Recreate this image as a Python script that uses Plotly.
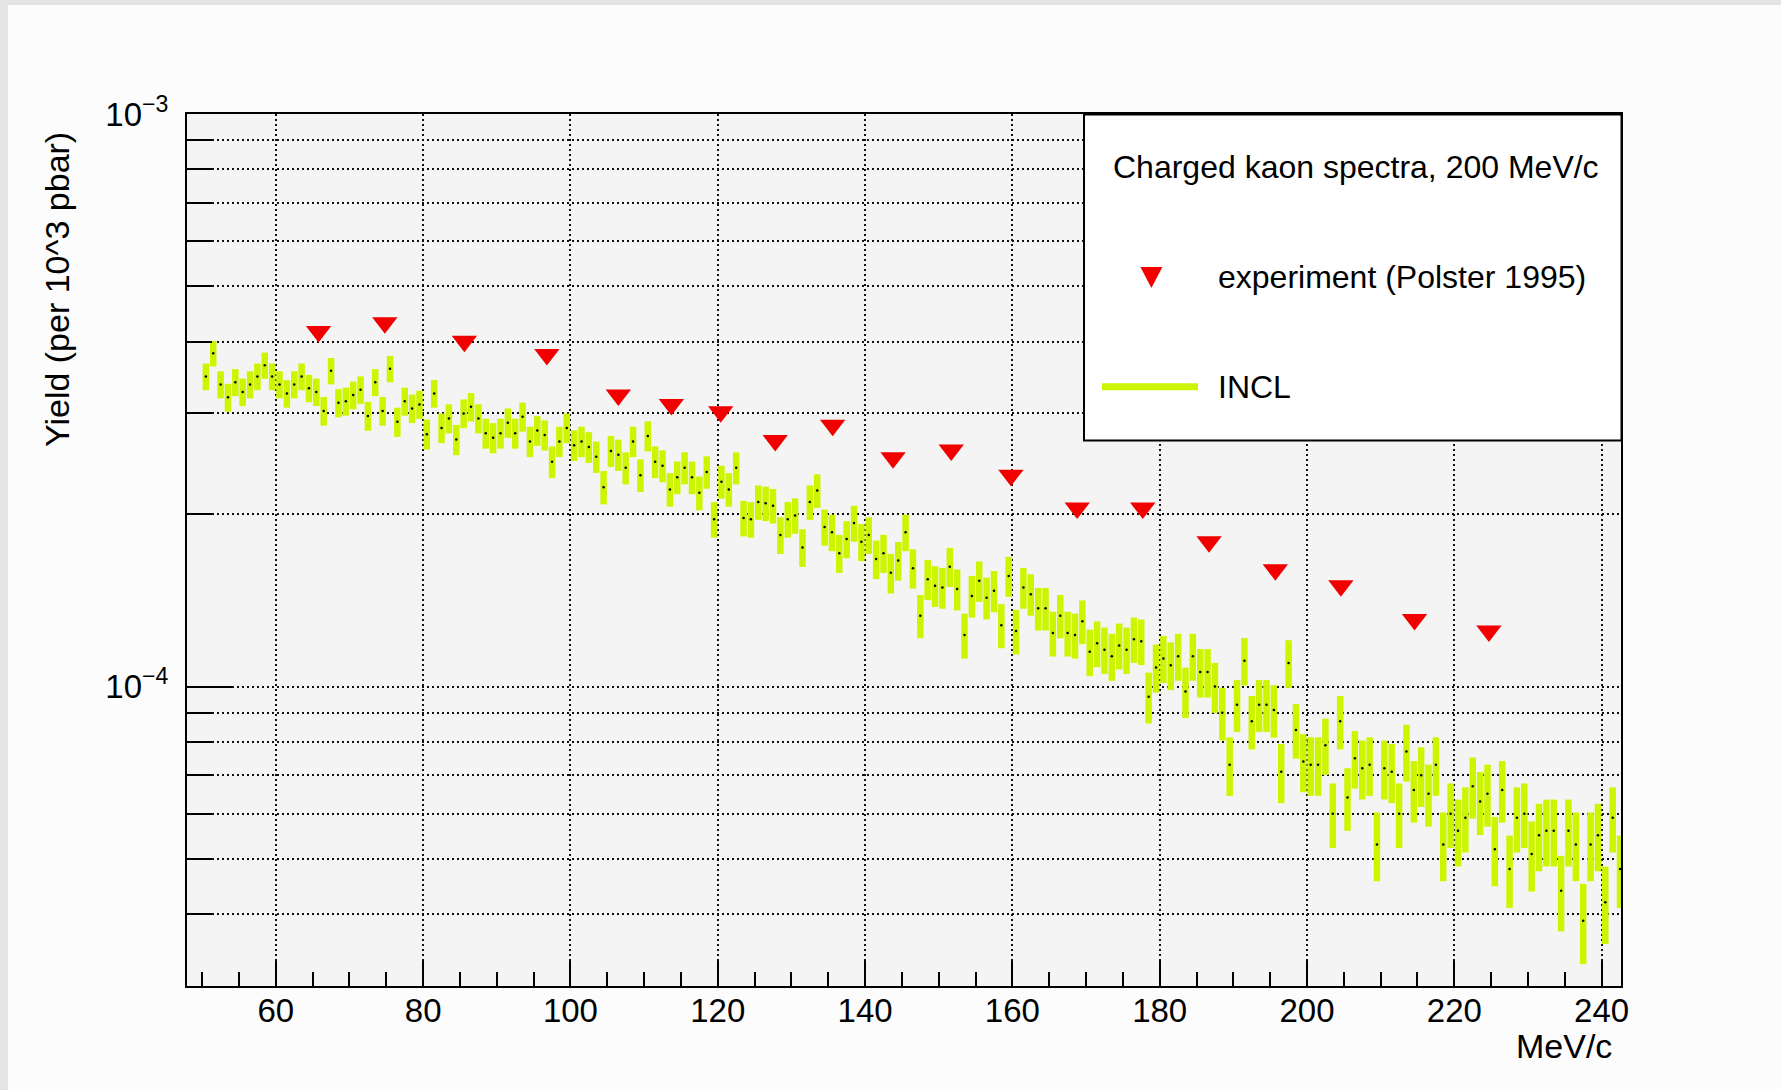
import numpy as np
import plotly.graph_objects as go

# ---------------- data ----------------
# INCL histogram: 1 MeV/c bins from 50 to 243 MeV/c; bin contents as counts
# (1 count = 1e-6 yield per 10^3 pbar); error = Poisson sqrt(counts)
BIN_LOW = 50.0
BIN_WIDTH = 1.0
COUNT_TO_YIELD = 1e-6
INCL_COUNTS = [
    # 50.5 .. 80.5
    348, 382, 337, 320, 340, 327, 337, 348, 364, 348, 337, 325, 337, 348, 332, 327,
    303, 356, 313, 315, 323, 330, 297, 340, 303, 359, 290, 315, 306, 311, 276,
    # 81.5 .. 112.5
    325, 283, 294, 270, 300, 308, 294, 277, 272, 277, 289, 277, 296, 268, 280, 275,
    247, 268, 283, 264, 268, 262, 252, 223, 258, 254, 241, 268, 234, 274, 247, 243,
    # 113.5 .. 145.5
    221, 232, 241, 232, 218, 237, 196, 228, 221, 241, 197, 196, 210, 209, 207, 184,
    196, 199, 175, 210, 220, 190, 186, 171, 181, 193, 179, 184, 167, 171, 158, 166, 186,
    # 146.5 .. 177.5
    161, 133, 154, 150, 149, 162, 148, 123, 144, 153, 143, 147, 128, 156, 125, 149,
    145, 137, 137, 124, 133, 124, 123, 130, 115, 119, 116, 113, 118, 116, 121, 120,
    # 178.5 .. 210.5
    96, 108, 112, 109, 113, 98, 113, 106, 106, 100, 90, 73, 93, 111, 87, 93,
    93, 91, 71, 110, 84, 74, 73, 73, 79, 60, 87, 64, 75, 72, 73, 53, 72,
    # 211.5 .. 242.5
    71, 60, 77, 66, 70, 65, 73, 53, 60, 56, 59, 67, 63, 65, 52, 66,
    48, 59, 60, 51, 55, 56, 56, 44, 56, 53, 39, 53, 55, 42, 59, 48,
]

EXP_MOMENTUM = [65.8, 74.8, 85.6, 96.8, 106.5, 113.7, 120.4, 127.8, 135.6, 143.8,
                151.7, 159.8, 168.8, 177.7, 186.7, 195.7, 204.6, 214.6, 224.7]
EXP_YIELD = [4.17e-4, 4.32e-4, 4.01e-4, 3.80e-4, 3.23e-4, 3.11e-4, 3.02e-4, 2.69e-4,
             2.86e-4, 2.51e-4, 2.59e-4, 2.34e-4, 2.05e-4, 2.05e-4, 1.79e-4, 1.60e-4,
             1.50e-4, 1.31e-4, 1.25e-4]

X_MAJOR_TICKS = [60, 80, 100, 120, 140, 160, 180, 200, 220, 240]
Y_MAJOR_TICKS = [1e-4, 1e-3]
Y_MAJOR_LABELS = ["10<sup>\u22124</sup>", "10<sup>\u22123</sup>"]
Y_MINOR_TICKS = [4e-5, 5e-5, 6e-5, 7e-5, 8e-5, 9e-5,
                 2e-4, 3e-4, 4e-4, 5e-4, 6e-4, 7e-4, 8e-4, 9e-4]

TITLE_Y = "Yield (per 10^3 pbar)"
TITLE_X = "MeV/c"
LEGEND_HEADER = "Charged kaon spectra, 200 MeV/c"
LEGEND_EXP = "experiment (Polster 1995)"
LEGEND_INCL = "INCL"

# ---------------- derived ----------------
counts = np.array(INCL_COUNTS, dtype=float)
centers = BIN_LOW + BIN_WIDTH * (np.arange(len(counts)) + 0.5)
incl_yield = counts * COUNT_TO_YIELD
incl_err = np.sqrt(counts) * COUNT_TO_YIELD

# ---------------- layout geometry ----------------
W, H = 1781, 1090
ML, MR, MT, MB = 187, 160, 114, 104
PW, PH = W - ML - MR, H - MT - MB


def px(x):
    return (x - ML) / PW


def py(y):
    return (H - MB - y) / PH


GREEN = "#ccf500"
RED = "#f20000"
FONT = "Liberation Sans, Arial, Helvetica, sans-serif"
GRIDCOL = "#111111"
GRIDDASH = "2px,3px"
GRIDW = 1.5

fig = go.Figure()

fig.add_trace(go.Scatter(
    x=centers, y=incl_yield, mode="markers", name=LEGEND_INCL,
    marker=dict(size=2.5, color="black"),
    error_y=dict(type="data", array=incl_err, visible=True,
                 thickness=6.5, width=0, color=GREEN),
    showlegend=False, hoverinfo="x+y",
))

fig.add_trace(go.Scatter(
    x=EXP_MOMENTUM, y=EXP_YIELD, mode="markers", name=LEGEND_EXP,
    marker=dict(symbol="triangle-down", size=22, color=RED, line=dict(width=0)),
    showlegend=False,
))

fig.update_layout(
    width=W, height=H, autosize=False,
    margin=dict(l=ML, r=MR, t=MT, b=MB, pad=0),
    paper_bgcolor="#fcfcfc", plot_bgcolor="#f4f4f4",
    font=dict(family=FONT, size=33, color="black"),
    showlegend=False,
)

fig.update_xaxes(
    range=[47.94, 242.63], showline=True, linecolor="black", linewidth=2, mirror=True,
    tickmode="array", tickvals=X_MAJOR_TICKS, ticks="inside", ticklen=25, tickwidth=2,
    tickcolor="black", showgrid=True, gridcolor=GRIDCOL, griddash=GRIDDASH,
    gridwidth=GRIDW, zeroline=False,
    tickfont=dict(size=33), ticklabelstandoff=-6,
    minor=dict(dtick=5, tick0=0, ticks="inside", ticklen=14, tickwidth=2,
               tickcolor="black", showgrid=False),
)

fig.update_yaxes(
    type="log", range=[np.log10(3e-5), np.log10(1e-3)],
    showline=True, linecolor="black", linewidth=2, mirror=True,
    tickmode="array", tickvals=Y_MAJOR_TICKS, ticktext=Y_MAJOR_LABELS,
    ticks="inside", ticklen=45, tickwidth=2, tickcolor="black",
    showgrid=True, gridcolor=GRIDCOL, griddash=GRIDDASH, gridwidth=GRIDW,
    zeroline=False,
    tickfont=dict(size=33), ticklabelstandoff=10,
    minor=dict(tickmode="array", tickvals=Y_MINOR_TICKS, ticks="inside", ticklen=25,
               tickwidth=2, tickcolor="black", showgrid=True,
               gridcolor=GRIDCOL, griddash=GRIDDASH, gridwidth=GRIDW),
)

shapes = [
    # screenshot frame strips
    dict(type="rect", xref="paper", yref="paper", x0=px(0), x1=px(8), y0=py(H), y1=py(0),
         fillcolor="#e4e4e4", line=dict(width=0), layer="above"),
    dict(type="rect", xref="paper", yref="paper", x0=px(0), x1=px(W), y0=py(5), y1=py(0),
         fillcolor="#e4e4e4", line=dict(width=0), layer="above"),
    # legend box
    dict(type="rect", xref="paper", yref="paper", x0=px(1084), x1=px(1621.5),
         y0=py(440.5), y1=py(114.5), fillcolor="white",
         line=dict(color="black", width=2), layer="above"),
    # legend triangle
    dict(type="path", xref="paper", yref="paper",
         path=f"M {px(1140.4)},{py(267)} L {px(1162.4)},{py(267)} L {px(1151.4)},{py(288)} Z",
         fillcolor=RED, line=dict(width=0), layer="above"),
    # legend line
    dict(type="line", xref="paper", yref="paper", x0=px(1102), x1=px(1198),
         y0=py(386.7), y1=py(386.7), line=dict(color=GREEN, width=7), layer="above"),
]
fig.update_layout(shapes=shapes)

annotations = [
    dict(text=TITLE_Y, textangle=-90, x=px(57), y=py(290), xref="paper", yref="paper",
         xanchor="center", yanchor="middle", showarrow=False, font=dict(size=34)),
    dict(text=TITLE_X, x=px(1614), y=py(1046), xref="paper", yref="paper",
         xanchor="right", yanchor="middle", showarrow=False, font=dict(size=34)),
    dict(text=LEGEND_HEADER, x=px(1356), y=py(167), xref="paper", yref="paper",
         xanchor="center", yanchor="middle", showarrow=False, font=dict(size=32)),
    dict(text=LEGEND_EXP, x=px(1216), y=py(277), xref="paper", yref="paper",
         xanchor="left", yanchor="middle", showarrow=False, font=dict(size=32)),
    dict(text=LEGEND_INCL, x=px(1216), y=py(387), xref="paper", yref="paper",
         xanchor="left", yanchor="middle", showarrow=False, font=dict(size=32)),
]
fig.update_layout(annotations=annotations)

fig.write_html("out.html")
